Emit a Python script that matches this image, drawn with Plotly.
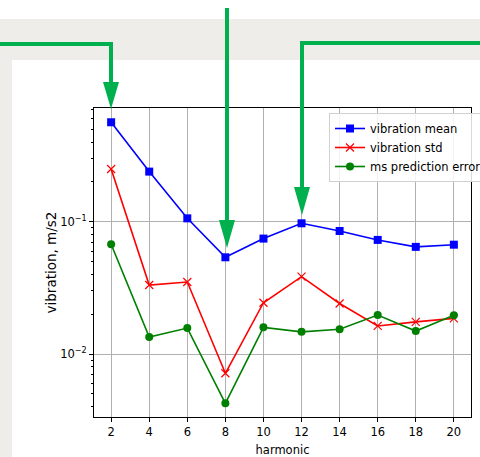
import plotly.graph_objects as go

# ---- data ----
harmonics = [2, 4, 6, 8, 10, 12, 14, 16, 18, 20]
vibration_mean = [0.564, 0.239, 0.106, 0.0538, 0.0745, 0.0972, 0.085, 0.0728, 0.0645, 0.0670]
vibration_std = [0.250, 0.0332, 0.0350, 0.00715, 0.0244, 0.0384, 0.0241, 0.0163, 0.0175, 0.0186]
ms_prediction_error = [0.0675, 0.01345, 0.0157, 0.00424, 0.0159, 0.0147, 0.0154, 0.0197, 0.0149, 0.0196]
x_ticks = [2, 4, 6, 8, 10, 12, 14, 16, 18, 20]
y_major = [0.01, 0.1]
y_major_text = ["10<sup>\u22122</sup>", "10<sup>\u22121</sup>"]
y_minor = [k * 10 ** e for e in (-3, -2, -1) for k in range(2, 10)]

W, H = 480, 457
L, R, T, B = 94, 471, 108, 417  # plot area in pixels


def px(x):
    return (x - L) / (R - L)


def py(y):
    return (B - y) / (B - T)


fig = go.Figure()
fig.add_trace(go.Scatter(x=harmonics, y=vibration_mean, mode="lines+markers",
                         name="vibration mean",
                         line=dict(color="#0000ff", width=1.6),
                         marker=dict(symbol="square", size=8, color="#0000ff")))
fig.add_trace(go.Scatter(x=harmonics, y=vibration_std, mode="lines+markers",
                         name="vibration std",
                         line=dict(color="#ff0000", width=1.6),
                         marker=dict(symbol="x-thin", size=8,
                                     line=dict(color="#ff0000", width=1.2),
                                     color="#ff0000")))
fig.add_trace(go.Scatter(x=harmonics, y=ms_prediction_error, mode="lines+markers",
                         name="ms prediction error",
                         line=dict(color="#008000", width=1.6),
                         marker=dict(symbol="circle", size=8, color="#008000")))

shapes = []
GRAY = "#eeede9"
# background gray bands
shapes.append(dict(type="rect", xref="paper", yref="paper", layer="below",
                   x0=px(0), x1=px(W), y0=py(60), y1=py(19),
                   fillcolor=GRAY, line=dict(width=0)))
shapes.append(dict(type="rect", xref="paper", yref="paper", layer="below",
                   x0=px(0), x1=px(12), y0=py(H), y1=py(60),
                   fillcolor=GRAY, line=dict(width=0)))

GREEN = "#00b04f"


def polyline(points):
    d = "M " + " L ".join(f"{px(x)},{py(y)}" for x, y in points)
    shapes.append(dict(type="path", xref="paper", yref="paper", path=d,
                       line=dict(color=GREEN, width=4)))


def head(x, ytop, ytip, half=8):
    d = f"M {px(x-half)},{py(ytop)} L {px(x+half)},{py(ytop)} L {px(x)},{py(ytip)} Z"
    shapes.append(dict(type="path", xref="paper", yref="paper", path=d,
                       fillcolor=GREEN, line=dict(color=GREEN, width=0)))


polyline([(0, 44), (111, 44), (111, 84)])
head(111, 82, 109)
polyline([(227, 8), (227, 222)])
head(227, 220, 248)
polyline([(480, 43), (302, 43), (302, 189)])
head(302, 187, 215)

fig.update_layout(
    width=W, height=H,
    margin=dict(l=L, r=W - R, t=T, b=H - B, autoexpand=False),
    paper_bgcolor="white", plot_bgcolor="white",
    font=dict(family="DejaVu Sans", size=11.5, color="#000000"),
    shapes=shapes,
    showlegend=True,
    legend=dict(x=px(329), y=py(113), xanchor="left", yanchor="top",
                bgcolor="rgba(255,255,255,0.85)", bordercolor="#d0d0d0",
                borderwidth=1, font=dict(size=11.5), tracegroupgap=0),
    xaxis=dict(range=[1.1, 20.9], tickmode="array", tickvals=x_ticks,
               showgrid=True, gridcolor="#b0b0b0", gridwidth=1,
               ticks="outside", ticklen=4, tickcolor="black",
               showline=True, mirror=True, linecolor="black", linewidth=1,
               zeroline=False, tickfont=dict(size=11.5),
               title=dict(text="harmonic", standoff=11, font=dict(size=11.5))),
    yaxis=dict(type="log", range=[-2.476, -0.141], tickmode="array",
               tickvals=y_major, ticktext=y_major_text,
               showgrid=True, gridcolor="#b0b0b0", gridwidth=1,
               ticks="outside", ticklen=4, tickcolor="black",
               showline=True, mirror=True, linecolor="black", linewidth=1,
               zeroline=False, tickfont=dict(size=11.5),
               minor=dict(tickmode="array", tickvals=y_minor, ticks="outside",
                          ticklen=2, tickcolor="black", showgrid=False),
               title=dict(text="vibration, m/s2", standoff=0, font=dict(size=13.5))),
)

fig.write_html("out.html", post_script="document.body.style.margin='0';",
               config={"displayModeBar": False})
